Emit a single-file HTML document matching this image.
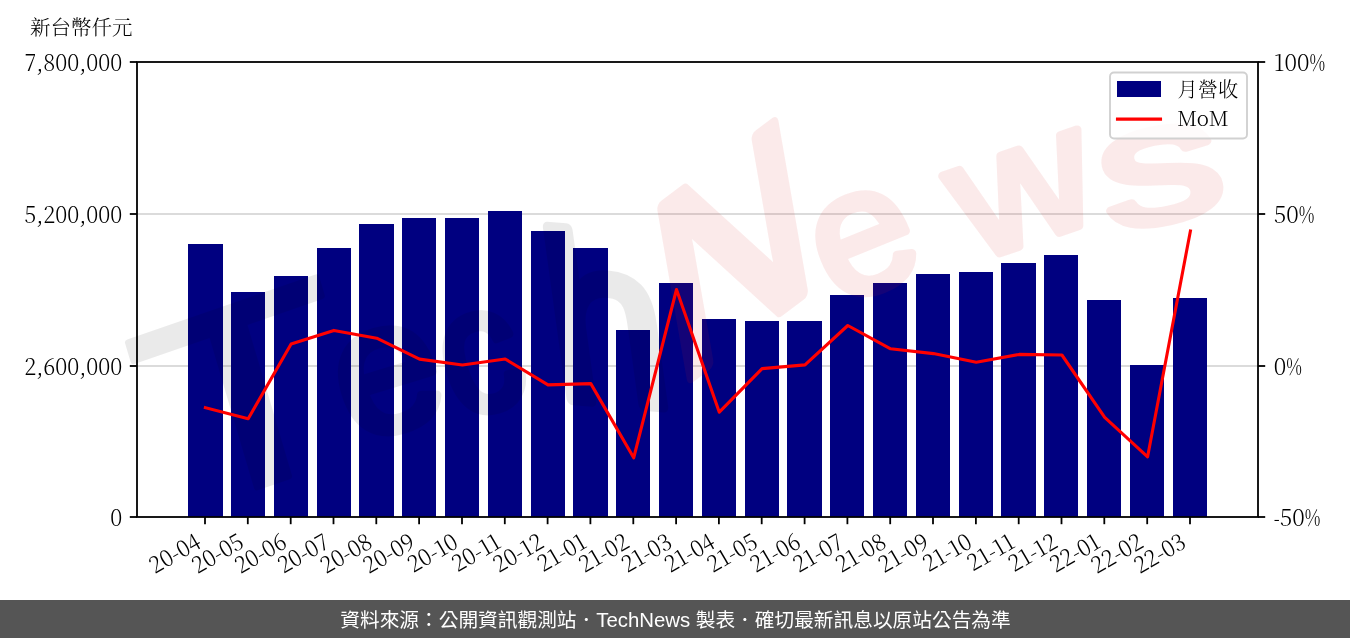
<!DOCTYPE html>
<html lang="zh-Hant">
<head>
<meta charset="utf-8">
<title>月營收</title>
<style>
html,body{margin:0;padding:0;background:#fff;}
body{width:1350px;height:638px;overflow:hidden;position:relative;}
#chart{position:absolute;left:0;top:0;width:1350px;height:600px;display:block;}
#chart text{font-family:"Noto Serif CJK SC", "Liberation Serif", serif;fill:#000;font-weight:300;}
#chart .wm text{font-family:"Liberation Sans",sans-serif;font-size:100px;font-weight:bold;}
#chart .wm text.n{font-weight:normal;}
#chart .wm text{stroke-width:5px;stroke-linejoin:round;stroke-linecap:round;}
#chart .wm text.g{fill:#000;stroke:#000;opacity:0.078;}
#chart .wm text.p{fill:#d72323;stroke:#d72323;opacity:0.092;}
#foot{position:absolute;left:0;top:600px;width:1349px;padding-left:1px;height:38px;background:#555555;color:#fff;
 font-family:"Liberation Sans", "Noto Sans CJK TC", sans-serif;font-size:19.7px;line-height:40px;text-align:center;white-space:nowrap;}
</style>
</head>
<body>
<svg id="chart" width="1350" height="600" viewBox="0 0 1350 600">

<g stroke="#cfcfcf" stroke-width="1.7">
<line x1="137" y1="214" x2="1258" y2="214"/>
<line x1="137" y1="366" x2="1258" y2="366"/>
</g>
<g fill="#000080" shape-rendering="crispEdges">
<rect x="188" y="244" width="35" height="273"/>
<rect x="231" y="292" width="34" height="225"/>
<rect x="274" y="276" width="34" height="241"/>
<rect x="317" y="248" width="34" height="269"/>
<rect x="359" y="224" width="35" height="293"/>
<rect x="402" y="218" width="34" height="299"/>
<rect x="445" y="218" width="34" height="299"/>
<rect x="488" y="211" width="34" height="306"/>
<rect x="531" y="231" width="34" height="286"/>
<rect x="573" y="248" width="35" height="269"/>
<rect x="616" y="330" width="34" height="187"/>
<rect x="659" y="283" width="34" height="234"/>
<rect x="702" y="319" width="34" height="198"/>
<rect x="745" y="321" width="34" height="196"/>
<rect x="787" y="321" width="35" height="196"/>
<rect x="830" y="295" width="34" height="222"/>
<rect x="873" y="283" width="34" height="234"/>
<rect x="916" y="274" width="34" height="243"/>
<rect x="959" y="272" width="34" height="245"/>
<rect x="1001" y="263" width="35" height="254"/>
<rect x="1044" y="255" width="34" height="262"/>
<rect x="1087" y="300" width="34" height="217"/>
<rect x="1130" y="365" width="34" height="152"/>
<rect x="1173" y="298" width="34" height="219"/>
</g>
<g class="wm">
<text class="g n" style="stroke-width:2.2px" transform="matrix(3.3045 -1.1419 0.7405 2.5038 172.2128 516.8270)">T</text>
<text class="g n" transform="matrix(1.8140 -0.5546 0.5401 1.7665 352.7257 443.0698)">e</text>
<text class="g n" transform="matrix(1.5200 -0.4647 0.5193 1.6986 457.6489 420.0634)">c</text>
<text class="g n" transform="matrix(2.1552 0.1724 0.3270 2.3706 556.9397 398.1552)">h</text>
<text class="p n" transform="matrix(1.9873 -1.4799 0.4267 2.4609 675.5560 388.2030)">N</text>
<text class="p n" transform="matrix(1.6823 -0.6797 0.6654 1.6469 835.6545 306.3140)">e</text>
<text class="p n" transform="matrix(1.8406 -0.6338 0.5641 1.6382 972.8983 262.2463)">w</text>
<text class="p n" transform="matrix(2.4184 -0.5140 0.3508 1.6505 1109.6688 232.2867)">s</text>
</g>
<polyline points="205.4,407.7 248.2,418.8 291.1,344.0 333.9,330.4 376.7,338.2 419.5,359.1 462.4,365.0 505.2,359.0 548.0,384.9 590.8,383.6 633.7,457.8 676.5,289.5 719.3,412.2 762.1,368.6 805.0,364.9 847.8,325.5 890.6,348.8 933.4,353.6 976.3,362.2 1019.1,354.4 1061.9,355.0 1104.7,417.3 1147.6,456.8 1190.4,231.0" fill="none" stroke="#ff0000" stroke-width="3.1" stroke-linejoin="round" stroke-linecap="square"/>
<rect x="137" y="62" width="1121" height="455" fill="none" stroke="#000" stroke-width="1.8"/>
<g stroke="#000" stroke-width="1.8">
<line x1="205.0" y1="517" x2="205.0" y2="524.2"/>
<line x1="247.8" y1="517" x2="247.8" y2="524.2"/>
<line x1="290.7" y1="517" x2="290.7" y2="524.2"/>
<line x1="333.5" y1="517" x2="333.5" y2="524.2"/>
<line x1="376.3" y1="517" x2="376.3" y2="524.2"/>
<line x1="419.1" y1="517" x2="419.1" y2="524.2"/>
<line x1="462.0" y1="517" x2="462.0" y2="524.2"/>
<line x1="504.8" y1="517" x2="504.8" y2="524.2"/>
<line x1="547.6" y1="517" x2="547.6" y2="524.2"/>
<line x1="590.4" y1="517" x2="590.4" y2="524.2"/>
<line x1="633.3" y1="517" x2="633.3" y2="524.2"/>
<line x1="676.1" y1="517" x2="676.1" y2="524.2"/>
<line x1="718.9" y1="517" x2="718.9" y2="524.2"/>
<line x1="761.7" y1="517" x2="761.7" y2="524.2"/>
<line x1="804.6" y1="517" x2="804.6" y2="524.2"/>
<line x1="847.4" y1="517" x2="847.4" y2="524.2"/>
<line x1="890.2" y1="517" x2="890.2" y2="524.2"/>
<line x1="933.0" y1="517" x2="933.0" y2="524.2"/>
<line x1="975.9" y1="517" x2="975.9" y2="524.2"/>
<line x1="1018.7" y1="517" x2="1018.7" y2="524.2"/>
<line x1="1061.5" y1="517" x2="1061.5" y2="524.2"/>
<line x1="1104.3" y1="517" x2="1104.3" y2="524.2"/>
<line x1="1147.2" y1="517" x2="1147.2" y2="524.2"/>
<line x1="1190.0" y1="517" x2="1190.0" y2="524.2"/>
<line x1="129.8" y1="62.0" x2="137" y2="62.0"/>
<line x1="1258" y1="62.0" x2="1265.2" y2="62.0"/>
<line x1="129.8" y1="214.0" x2="137" y2="214.0"/>
<line x1="1258" y1="214.0" x2="1265.2" y2="214.0"/>
<line x1="129.8" y1="366.0" x2="137" y2="366.0"/>
<line x1="1258" y1="366.0" x2="1265.2" y2="366.0"/>
<line x1="129.8" y1="517.0" x2="137" y2="517.0"/>
<line x1="1258" y1="517.0" x2="1265.2" y2="517.0"/>
</g>
<g font-size="22.5" text-anchor="end">
<text transform="translate(122.3,70.9) scale(0.97,1)">7,800,000</text>
<text transform="translate(122.3,222.9) scale(0.97,1)">5,200,000</text>
<text transform="translate(122.3,374.9) scale(0.97,1)">2,600,000</text>
<text transform="translate(122.3,525.9) scale(0.97,1)">0</text>
</g>
<g font-size="22.5" text-anchor="start">
<text transform="translate(1273.8,70.7) scale(1.01,1)">100<tspan textLength="15.6" lengthAdjust="spacingAndGlyphs">%</tspan></text>
<text transform="translate(1273.8,222.7) scale(1.01,1)">50<tspan textLength="15.6" lengthAdjust="spacingAndGlyphs">%</tspan></text>
<text transform="translate(1273.8,374.7) scale(1.01,1)">0<tspan textLength="15.6" lengthAdjust="spacingAndGlyphs">%</tspan></text>
<text transform="translate(1273.8,525.7) scale(1.01,1)"><tspan textLength="5.9" lengthAdjust="spacingAndGlyphs">-</tspan>50<tspan textLength="15.6" lengthAdjust="spacingAndGlyphs">%</tspan></text>
</g>
<g font-size="22.5" text-anchor="end">
<text transform="translate(202.7,546.5) rotate(-30) scale(0.97,1)">20-04</text>
<text transform="translate(245.5,546.5) rotate(-30) scale(0.97,1)">20-05</text>
<text transform="translate(288.4,546.5) rotate(-30) scale(0.97,1)">20-06</text>
<text transform="translate(331.2,546.5) rotate(-30) scale(0.97,1)">20-07</text>
<text transform="translate(374.0,546.5) rotate(-30) scale(0.97,1)">20-08</text>
<text transform="translate(416.8,546.5) rotate(-30) scale(0.97,1)">20-09</text>
<text transform="translate(459.7,546.5) rotate(-30) scale(0.97,1)">20-10</text>
<text transform="translate(502.5,546.5) rotate(-30) scale(0.97,1)">20-11</text>
<text transform="translate(545.3,546.5) rotate(-30) scale(0.97,1)">20-12</text>
<text transform="translate(588.1,546.5) rotate(-30) scale(0.97,1)">21-01</text>
<text transform="translate(631.0,546.5) rotate(-30) scale(0.97,1)">21-02</text>
<text transform="translate(673.8,546.5) rotate(-30) scale(0.97,1)">21-03</text>
<text transform="translate(716.6,546.5) rotate(-30) scale(0.97,1)">21-04</text>
<text transform="translate(759.4,546.5) rotate(-30) scale(0.97,1)">21-05</text>
<text transform="translate(802.3,546.5) rotate(-30) scale(0.97,1)">21-06</text>
<text transform="translate(845.1,546.5) rotate(-30) scale(0.97,1)">21-07</text>
<text transform="translate(887.9,546.5) rotate(-30) scale(0.97,1)">21-08</text>
<text transform="translate(930.7,546.5) rotate(-30) scale(0.97,1)">21-09</text>
<text transform="translate(973.6,546.5) rotate(-30) scale(0.97,1)">21-10</text>
<text transform="translate(1016.4,546.5) rotate(-30) scale(0.97,1)">21-11</text>
<text transform="translate(1059.2,546.5) rotate(-30) scale(0.97,1)">21-12</text>
<text transform="translate(1102.0,546.5) rotate(-30) scale(0.97,1)">22-01</text>
<text transform="translate(1144.9,546.5) rotate(-30) scale(0.97,1)">22-02</text>
<text transform="translate(1187.7,546.5) rotate(-30) scale(0.97,1)">22-03</text>
</g>
<text x="30" y="35" font-size="20.5" font-weight="300">新台幣仟元</text>
<rect x="1110" y="72.5" width="137" height="66" rx="4" ry="4" fill="#fff" fill-opacity="0.8" stroke="#cccccc" stroke-opacity="0.9" stroke-width="1.9"/>
<rect x="1117" y="81" width="44" height="16" fill="#000080"/>
<line x1="1117.5" y1="119.1" x2="1160.5" y2="119.1" stroke="#ff0000" stroke-width="3.1" stroke-linecap="square"/>
<text x="1177.6" y="96.6" font-size="20.2" font-weight="300">月營收</text>
<text x="1177.3" y="126.3" font-size="20.6">MoM</text>
</svg>
<div id="foot">資料來源：公開資訊觀測站．<span style="font-size:20.4px">TechNews</span> 製表．確切最新訊息以原站公告為準</div>
</body>
</html>
